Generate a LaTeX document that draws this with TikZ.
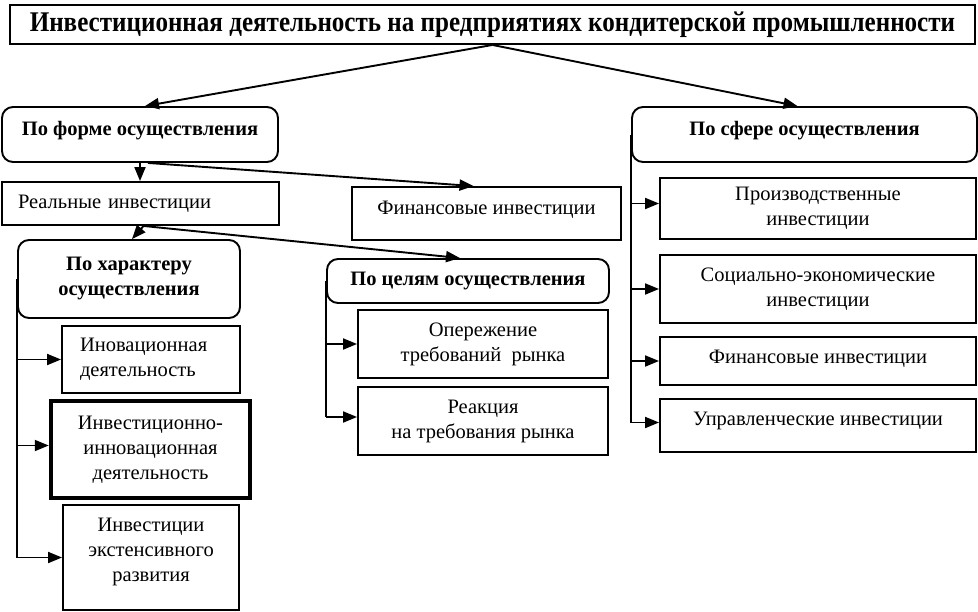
\documentclass[tikz,border=0pt]{standalone}
\usepackage{fontspec}
\setmainfont{Liberation Serif}
\usetikzlibrary{arrows.meta,calc}
\begin{document}
\begin{tikzpicture}[x=1pt,y=-1pt,
  every node/.style={font=\fontsize{20.5}{25}\selectfont, inner sep=0pt, align=center},
  bx/.style={draw, line width=1.9pt},
  rbx/.style={bx, rounded corners=11pt, font=\fontsize{20.5}{25}\selectfont\bfseries},
  thk/.style={draw, line width=4.5pt},
  up/.style={text depth=#1},
  arr/.style={line width=1.9pt, -{Triangle[length=14pt,width=11pt]}},
  ln/.style={line width=1.9pt}]
\useasboundingbox[fill=white] (0,0) rectangle (978,611);

% title
\node[bx, minimum width=965pt, minimum height=39pt,
      font=\fontsize{28.5}{32}\selectfont\bfseries] (title) at (492.5,24.5)
  {\scalebox{0.88}[1]{Инвестиционная деятельность на предприятиях кондитерской промышленности}};

% left branch
\node[rbx, minimum width=276pt, minimum height=55pt, up=12pt] (forme) at (140,134.5)
  {По форме осуществления};
\node[bx, minimum width=277pt, minimum height=43pt, text width=245pt,
      inner xsep=16pt, align=left] (real) at (140.5,203.5) {Реальные инвестиции};
\node[bx, minimum width=269pt, minimum height=53pt, up=11pt] (finmid) at (486.5,213.5)
  {Финансовые инвестиции};
\node[rbx, minimum width=222pt, minimum height=78pt, up=6pt] (harakter) at (129,279)
  {По характеру\\осуществления};
\node[rbx, minimum width=282pt, minimum height=44pt] (celi) at (468,281)
  {По целям осуществления};
\node[bx, minimum width=250pt, minimum height=68pt] (operez) at (483,344)
  {Опережение\\требований\ \ рынка};
\node[bx, minimum width=250pt, minimum height=68pt] (reak) at (483,421)
  {Реакция\\на требования рынка};
\node[bx, minimum width=178pt, minimum height=67pt, text width=142pt,
      inner xsep=18pt, align=left] (inov) at (151,359.5)
  {Иновационная\\деятельность};
\node[thk, minimum width=199pt, minimum height=97pt] (invinn) at (150.5,449.5)
  {Инвестиционно-\\инновационная\\деятельность};
\node[bx, minimum width=176pt, minimum height=105pt, up=16pt] (ext) at (151,557.5)
  {Инвестиции\\экстенсивного\\развития};

% right branch
\node[rbx, minimum width=345pt, minimum height=55pt, up=12pt] (sfere) at (804.5,134.5)
  {По сфере осуществления};
\node[bx, minimum width=316pt, minimum height=61pt] (proiz) at (818,208.5)
  {Производственные\\инвестиции};
\node[bx, minimum width=316pt, minimum height=68pt] (soc) at (818,289)
  {Социально-экономические\\инвестиции};
\node[bx, minimum width=316pt, minimum height=48pt, up=9pt] (finr) at (818,361)
  {Финансовые инвестиции};
\node[bx, minimum width=316pt, minimum height=53pt, up=14pt] (upr) at (818,425.5)
  {Управленческие инвестиции};

% top arrows
\draw[arr] (title.south) -- ($(forme.north)+(5,0)$);
\draw[arr] (title.south) -- ($(sfere.north)+(-7,0)$);

% from "По форме"
\draw[arr] (forme.south) -- (real.north -| forme.south);
\draw[arr] ($(forme.south)+(8,0)$) -- ($(finmid.north)+(-13,0)$);

% from "Реальные"
\draw[arr] ($(real.south)+(3,0)$) -- ($(harakter.north)+(3,0)$);
\draw[arr] ($(real.south)+(3,0)$) -- ($(celi.north)+(-8,0)$);

% По характеру
\draw[ln] (harakter.west) -- (harakter.west |- ext.west);
\draw[arr] (harakter.west |- ext.west) -- (ext.west);
\draw[arr] (harakter.west |- inov.west) -- (inov.west);
\draw[arr] ($(harakter.west |- invinn.west)+(0,-4)$) -- ($(invinn.west)+(0,-4)$);

% По целям
\draw[ln] (celi.west) -- ($(celi.west |- reak.west)+(0,-4)$);
\draw[arr] (celi.west |- operez.west) -- (operez.west);
\draw[arr] ($(celi.west |- reak.west)+(0,-4)$) -- ($(reak.west)+(0,-4)$);

% По сфере
\draw[ln] (sfere.west) -- ($(sfere.west |- upr.west)+(0,-3)$);
\draw[arr] ($(sfere.west |- proiz.west)+(0,-5)$) -- ($(proiz.west)+(0,-5)$);
\draw[arr] (sfere.west |- soc.west) -- (soc.west);
\draw[arr] (sfere.west |- finr.west) -- (finr.west);
\draw[arr] ($(sfere.west |- upr.west)+(0,-3)$) -- ($(upr.west)+(0,-3)$);
\end{tikzpicture}
\end{document}
